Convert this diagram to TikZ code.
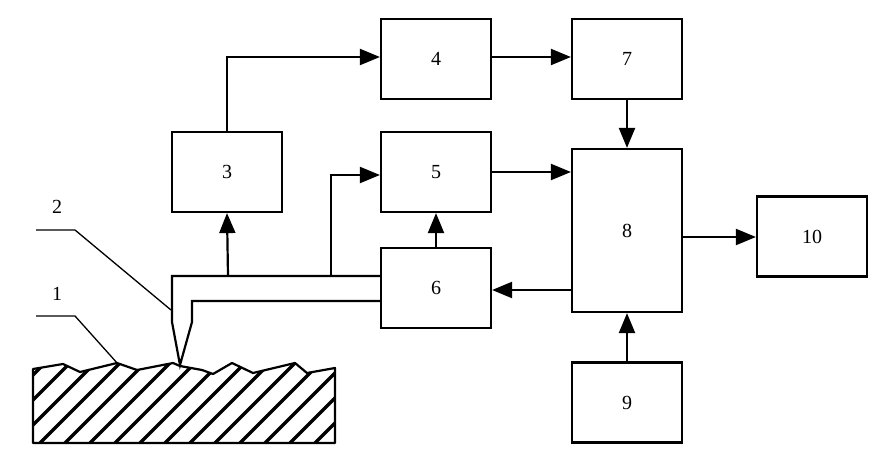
\documentclass[tikz,border=0pt]{standalone}
\usepackage{fontspec}
\setmainfont{Liberation Serif}
\usetikzlibrary{arrows.meta}
\begin{document}
\begin{tikzpicture}[x=1pt,y=-1pt,
 box/.style={draw,line width=2.2pt,minimum width=110pt,minimum height=80pt,inner sep=0,font=\fontsize{20}{20}\selectfont},
 ar/.style={line width=2.2pt,-{Triangle[length=20pt,width=16pt]}},
 ln/.style={line width=2.2pt},
 thin/.style={line width=1.3pt}]
\useasboundingbox (0,0) rectangle (894,468);
\node[box] (n3) at (227,172) {3};
\node[box] (n4) at (436,59) {4};
\node[box] (n7) at (627,59) {7};
\node[box] (n5) at (436,172) {5};
\node[box] (n6) at (436,288) {6};
\node[box,minimum height=163pt] (n8) at (627,230.5) {8};
\node[box] (n10) at (812,236.5) {10};
\node[box] (n9) at (627,402.5) {9};
% probe
\coordinate (pt) at (180,365);
\draw[ln,line join=miter] (n6.west|-0,276) -- (172,276) -- (172,322) -- (pt) -- (192,322) -- (192,301) -- (n6.west|-0,301);
% arrows
\draw[ar] (228,276) -- (n3.south);
\draw[ar] (n3.north) -- (227,57) -- (n4.west|-0,57);
\draw[ar] (n4.east|-0,57) -- (n7.west|-0,57);
\draw[ar] (n7.south) -- (n8.north);
\draw[ar] (n5.east) -- (n8.west|-n5.east);
\draw[ar] (n8.east|-0,237) -- (n10.west|-0,237);
\draw[ar] (n8.west|-0,290) -- (n6.east|-0,290);
\draw[ar] (n9.north) -- (n8.south);
\draw[ar] (n6.north) -- (n5.south);
\draw[ar] (331,276) -- (331,175) -- (n5.west|-0,175);
% surface
\def\surf{(33,369) -- (63,364) -- (80,372) -- (117,363) -- (137,370) -- (173,363) -- (180,366) -- (202,370) -- (213,374) -- (232,363) -- (253,373) -- (295,363) -- (307,373) -- (335,368)}
\begin{scope}
\clip (33,443) -- \surf -- (335,443) -- cycle;
\foreach \i in {0,...,18}{
 \draw[line width=3.5pt] (33+\i*25-100,450) -- (33+\i*25,350);}
\end{scope}
\draw[ln,line join=round] (33,443) -- \surf -- (335,443) -- cycle;
% leaders
\draw[thin] (36,230) -- (75,230) -- (171,310);
\draw[thin] (36,316) -- (75,316) -- (118,364);
\node[font=\fontsize{20}{20}\selectfont] (l2) at (57,207) {2};
\node[font=\fontsize{20}{20}\selectfont] (l1) at (57,294) {1};
\end{tikzpicture}
\end{document}
